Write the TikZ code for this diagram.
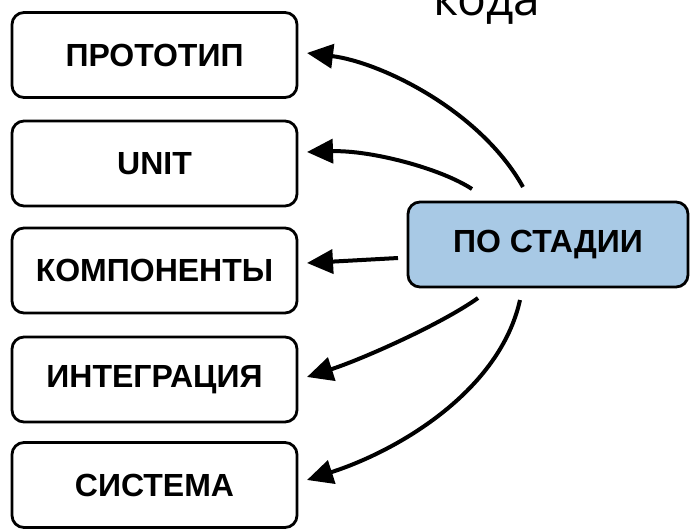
\documentclass[tikz,border=0pt]{standalone}
\usepackage{fontspec}
\setmainfont{Liberation Sans}
\newfontfamily\kodafont{Open Sans}
\usetikzlibrary{arrows.meta,calc}
\definecolor{stageblue}{RGB}{168,201,229}
\tikzset{
  box/.style={draw=black, line width=2.8pt, rounded corners=12pt, fill=white,
    minimum width=285pt, minimum height=85pt, inner sep=0pt, outer sep=0pt,
    font=\fontsize{32}{36}\selectfont\bfseries},
  hub/.style={box, fill=stageblue, minimum width=280pt},
  arr/.style={line width=4pt, -{Triangle[length=26pt,width=24pt]}}
}
\begin{document}
\begin{tikzpicture}[x=1pt,y=-1pt]
\useasboundingbox (0,0) rectangle (690,528);
\node[anchor=base west, font=\kodafont\fontsize{48}{52}\selectfont] (koda) at (430,15) {кода};
\node[box] (p1) at (154.5,55) {ПРОТОТИП};
\node[box] (p2) at (154.5,163.5) {UNIT};
\node[box] (p3) at (154.5,270.5) {КОМПОНЕНТЫ};
\node[box] (p4) at (154.5,379.5) {ИНТЕГРАЦИЯ};
\node[box] (p5) at (154.5,485) {СИСТЕМА};
\node[hub] (hub) at (548,244.5) {ПО СТАДИИ};
\coordinate (s1) at ($(hub.north)+(-25,-15)$);
\coordinate (s2) at ($(hub.north)+(-76,-13)$);
\coordinate (s3) at ($(hub.west)+(-10,13.5)$);
\coordinate (s4) at ($(hub.south)+(-70,11)$);
\coordinate (s5) at ($(hub.south)+(-28,13)$);
\coordinate (t1) at ($(p1.east)+(10,-2)$);
\coordinate (t2) at ($(p2.east)+(10,-11.5)$);
\coordinate (t3) at ($(p3.east)+(10,-7.5)$);
\coordinate (t4) at ($(p4.east)+(10,-2.5)$);
\coordinate (t5) at ($(p5.east)+(10,-5)$);
\draw[arr] (s1) .. controls (480,110) and (380,62) .. (t1);
\draw[arr] (s2) .. controls (440,168) and (370,150) .. (t2);
\draw[arr] (s3) -- (t3);
\draw[arr] (s4) .. controls (440,325) and (360,360) .. (t4);
\draw[arr] (s5) .. controls (500,390) and (400,450) .. (t5);
\end{tikzpicture}
\end{document}
